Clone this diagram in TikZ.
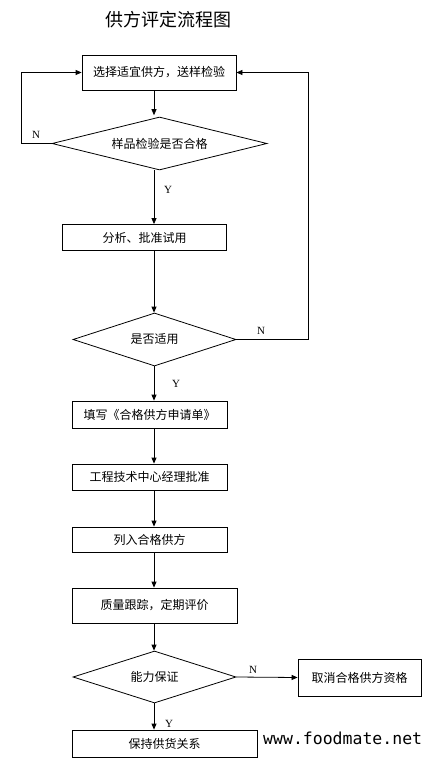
\documentclass[tikz,border=0pt]{standalone}
\usepackage{fontspec}
\setmainfont{Liberation Serif}
\newfontfamily\cjk{Noto Sans CJK SC}
\newfontfamily\webmono{DejaVu Sans Mono}
\usetikzlibrary{arrows.meta,shapes.geometric}
\begin{document}
\begin{tikzpicture}[x=1pt,y=-1pt,
  box/.style={draw,line width=0.8pt,inner sep=0pt,font=\cjk\fontsize{12}{14}\selectfont},
  dia/.style={draw,diamond,line width=0.8pt,inner sep=0pt,aspect=4,font=\cjk\fontsize{12}{14}\selectfont},
  arr/.style={line width=0.8pt,-{Triangle[length=6pt,width=5pt]}},
  lab/.style={font=\fontsize{11}{13}\selectfont,inner sep=0pt}]
\useasboundingbox (0,0) rectangle (432,767);
\fill[white] (0,0) rectangle (432,767);
\coordinate (sp) at (154,0);
\coordinate (lx) at (21,0);
\coordinate (rx) at (308,0);
\node[font=\cjk\fontsize{18}{20}\selectfont,inner sep=0pt] (title) at (168,20) {供方评定流程图};
\node[box,minimum width=154pt,minimum height=35pt] (b1) at (159,72.5) {选择适宜供方，送样检验};
\node[dia,minimum width=215pt,minimum height=53pt] (d1) at (159.5,143.5) {样品检验是否合格};
\node[box,minimum width=164pt,minimum height=26pt] (b2) at (144.5,237.5) {分析、批准试用};
\node[dia,minimum width=163pt,minimum height=53pt] (d2) at (154.5,339.5) {是否适用};
\node[box,minimum width=155pt,minimum height=27pt] (b3) at (149.5,414.5) {填写《合格供方申请单》};
\node[box,minimum width=155pt,minimum height=26pt] (b4) at (149.5,477) {工程技术中心经理批准};
\node[box,minimum width=155pt,minimum height=25pt] (b5) at (149.5,539.5) {列入合格供方};
\node[box,minimum width=165pt,minimum height=35pt] (b6) at (154.5,605.5) {质量跟踪，定期评价};
\node[dia,minimum width=163pt,minimum height=52pt] (d3) at (154.5,677) {能力保证};
\node[box,minimum width=123pt,minimum height=37pt] (b7) at (359.5,677.5) {取消合格供方资格};
\node[box,minimum width=185pt,minimum height=27pt] (b8) at (164.5,743.5) {保持供货关系};
\node[font=\webmono\fontsize{16.5}{18}\selectfont,inner sep=0pt,anchor=west] (web) at (263,738) {www.foodmate.net};
\draw[arr] (b1.south -| sp) -- ([yshift=1.4pt]d1.north -| sp);
\draw[arr] (d1.west) -- (d1.west -| lx) |- (b1.west);
\draw[arr] (d1.south -| sp) -- (b2.north -| sp);
\draw[arr] (b2.south -| sp) -- (d2.north -| sp);
\draw[arr] (d2.east) -- (d2.east -| rx) |- (b1.east);
\draw[arr] (d2.south -| sp) -- (b3.north -| sp);
\draw[arr] (b3.south -| sp) -- (b4.north -| sp);
\draw[arr] (b4.south -| sp) -- (b5.north -| sp);
\draw[arr] (b5.south -| sp) -- (b6.north -| sp);
\draw[arr] (b6.south -| sp) -- (d3.north -| sp);
\draw[arr] (d3.east) -- (b7.west);
\draw[arr] (d3.south -| sp) -- (b8.north -| sp);
\node[lab] (n1) at (36,135) {N};
\node[lab] (y1) at (168,190) {Y};
\node[lab] (n2) at (261,331) {N};
\node[lab] (y2) at (176,384) {Y};
\node[lab] (n3) at (253,670) {N};
\node[lab] (y3) at (169,724) {Y};
\end{tikzpicture}
\end{document}
